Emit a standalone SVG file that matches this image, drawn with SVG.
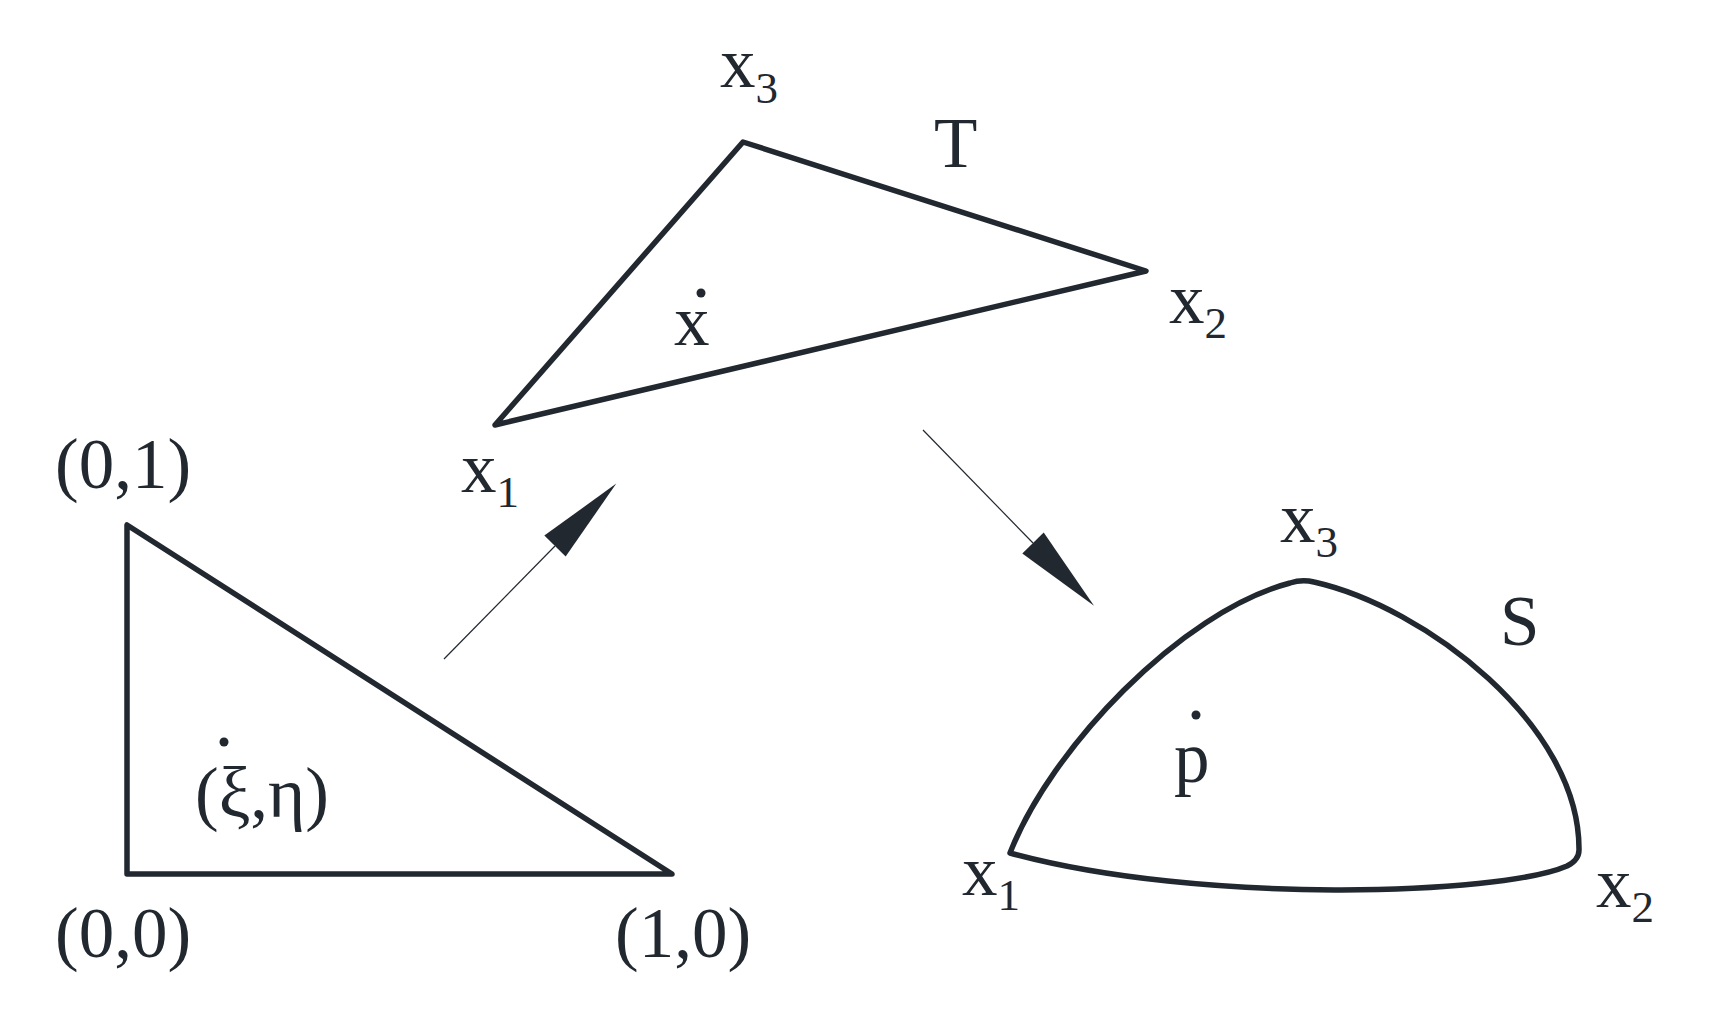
<svg xmlns="http://www.w3.org/2000/svg" width="1724" height="1020" viewBox="0 0 1724 1020">
<style>
  .shape { fill: none; stroke: #22282f; stroke-width: 5.5; stroke-linejoin: round; stroke-linecap: round; }
  .lbl { font-family: "Liberation Serif", "Times New Roman", serif; font-size: 71px; fill: #22282f; }
  .sub { font-size: 45px; }
  .conn { stroke: #22282f; stroke-width: 1.2; fill: none; }
  .dot { fill: #22282f; }
</style>
<defs>
  <marker id="arrow" markerUnits="userSpaceOnUse" markerWidth="90" markerHeight="32" viewBox="0 -15 84 30" refX="0" refY="0" orient="auto">
    <path d="M0,-14 L82,0 L0,14 Z" fill="#22282f"/>
  </marker>
</defs>
<rect width="1724" height="1020" fill="#ffffff"/>

<g id="reference-triangle">
  <polygon class="shape" points="127,525 127,874 672,874"/>
  <text class="lbl" x="55" y="488">(0,1)</text>
  <text class="lbl" x="55" y="957">(0,0)</text>
  <text class="lbl" x="615" y="957">(1,0)</text>
  <text class="lbl" x="195" y="817">(ξ,η)</text>
  <circle class="dot" cx="224" cy="742" r="4.5"/>
</g>

<g id="triangle-T">
  <polygon class="shape" points="495,425 743,142 1146,271"/>
  <text class="lbl" x="720" y="87">x<tspan class="sub" dy="16">3</tspan></text>
  <text class="lbl" x="1169" y="323">x<tspan class="sub" dy="15">2</tspan></text>
  <text class="lbl" x="461" y="492">x<tspan class="sub" dy="15">1</tspan></text>
  <text class="lbl" x="934" y="167">T</text>
  <text class="lbl" x="674" y="345">x</text>
  <circle class="dot" cx="701" cy="293" r="4.5"/>
</g>

<g id="surface-S">
  <path class="shape" d="M1010,853 C1050,750 1180,612 1290,583 Q1302,579 1314,582 C1425,607 1580,725 1579,850 Q1579,860 1567,866 C1500,895 1200,905 1010,853 Z"/>
  <text class="lbl" x="1280" y="542">x<tspan class="sub" dy="15">3</tspan></text>
  <text class="lbl" x="962" y="895">x<tspan class="sub" dy="15">1</tspan></text>
  <text class="lbl" x="1596" y="907">x<tspan class="sub" dy="15">2</tspan></text>
  <text class="lbl" x="1500" y="645">S</text>
  <text class="lbl" x="1174" y="782">p</text>
  <circle class="dot" cx="1196" cy="715" r="4.5"/>
</g>

<g id="connectors">
  <line class="conn" x1="444" y1="659" x2="555" y2="546" marker-end="url(#arrow)"/>
  <line class="conn" x1="923" y1="430" x2="1033" y2="543" marker-end="url(#arrow)"/>
</g>
</svg>
